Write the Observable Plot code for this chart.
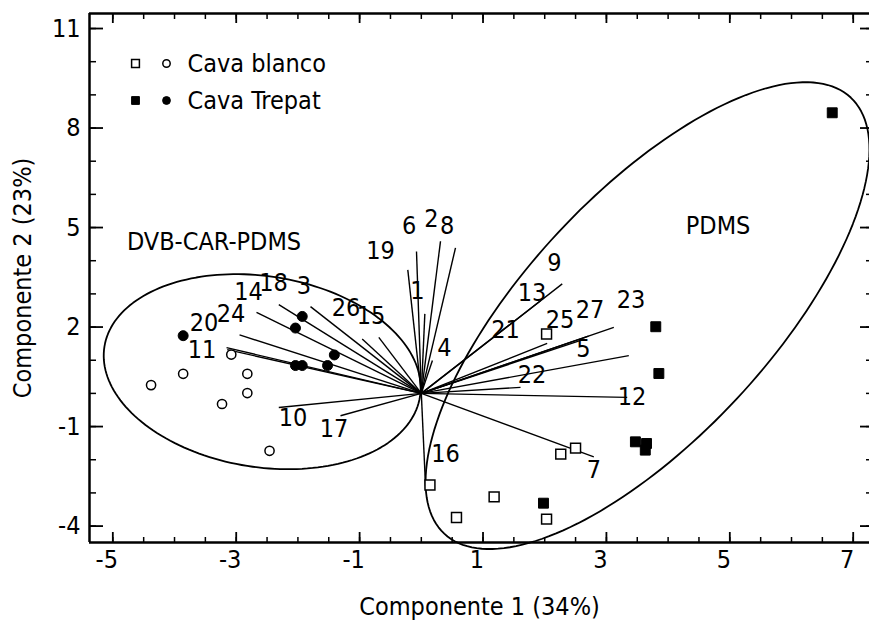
<!DOCTYPE html>
<html>
<head>
<meta charset="utf-8">
<script src="https://cdn.jsdelivr.net/npm/d3@7"></script>
<script src="https://cdn.jsdelivr.net/npm/@observablehq/plot@0.6"></script>
<style>
  html, body { margin: 0; padding: 0; background: #fff; }
</style>
</head>
<body>
<div id="chart"></div>
<script>
// Sample scores on the first two principal components
const blancoSquareX = [2.03, 2.50, 2.26, 0.14, 1.18, 0.57, 2.03];
const blancoSquareY = [1.79, -1.65, -1.83, -2.76, -3.12, -3.74, -3.79];
const trepatSquareX = [1.98, 3.47, 3.65, 3.63, 3.80, 3.85, 6.66];
const trepatSquareY = [-3.31, -1.46, -1.51, -1.71, 2.01, 0.60, 8.46];
const blancoCircleX = [-4.38, -3.86, -3.08, -2.82, -2.82, -3.23, -2.46];
const blancoCircleY = [0.25, 0.59, 1.17, 0.59, 0.01, -0.32, -1.73];
const trepatCircleX = [-3.86, -2.04, -1.93, -1.41, -1.52, -2.04, -1.93];
const trepatCircleY = [1.74, 1.97, 2.32, 1.16, 0.84, 0.84, 0.84];

// Variable loadings (vector tips) and where each number is written
const varLabels = ["1","2","3","4","5","6","7","8","9","10","11","12","13","14",
                   "15","16","17","18","19","20","21","22","23","24","25","26","27"];
const loadX  = [0.057, 0.311, -1.796, 0.18, 2.645, -0.078, 2.796, 0.554, 2.284, -2.310,
                -3.146, 3.337, 1.932, -2.671, -0.689, 0.068, -1.310, -2.310, -0.219, -3.157,
                2.040, 1.608, 3.363, -2.946, 2.710, -0.958, 3.120];
const loadY  = [2.397, 4.588, 2.617, 0.99, 1.636, 4.277, -1.911, 4.389, 3.302, -0.423,
                1.319, -0.121, 2.792, 2.445, 1.690, -2.786, -0.673, 2.677, 3.725, 1.379,
                1.509, 0.181, 1.138, 1.763, 1.727, 1.642, 1.992];
const labelX = [-0.062, 0.165, -1.901, 0.376, 2.629, -0.199, 2.799, 0.417, 2.159, -2.079,
                -3.554, 3.415, 1.794, -2.801, -0.815, 0.392, -1.415, -2.396, -0.661, -3.522,
                1.365, 1.794, 3.399, -3.084, 2.248, -1.220, 2.734];
const labelY = [3.100, 5.243, 3.251, 1.379, 1.334, 5.032, -2.303, 5.032, 3.930, -0.749,
                1.319, -0.100, 3.024, 3.055, 2.345, -1.820, -1.066, 3.326, 4.307, 2.119,
                1.923, 0.564, 2.828, 2.391, 2.225, 2.587, 2.526];

// Group ellipses: centre and two conjugate semi-axes (PC units)
const groupNames   = ["DVB-CAR-PDMS", "PDMS"];
const groupCenterX = [-2.579, 3.666];
const groupCenterY = [0.655, 2.345];
const groupAxisUX  = [2.566, 3.294];
const groupAxisUY  = [-0.353, 6.574];
const groupAxisVX  = [-0.115, 1.445];
const groupAxisVY  = [2.919, -2.511];
const groupLabelX  = [-3.360, 4.809];
const groupLabelY  = [4.579, 5.032];

// Axis ticks
const xMajor = [-5, -3, -1, 1, 3, 5, 7];
const yMajor = [11, 8, 5, 2, -1, -4];
const xMinor = d3.range(-5, 7.01, 0.5);
const yMinor = d3.range(-4, 11.01, 1);

const xDomain = [-5.378, 7.264];
const yDomain = [-4.495, 11.453];

const font = "'DejaVu Sans Condensed', 'DejaVu Sans', sans-serif";
const fs = 25;

const pts = (xs, ys) => xs.map((x, i) => ({x, y: ys[i]}));
const loadings = varLabels.map((label, i) => ({
  label, x: loadX[i], y: loadY[i], lx: labelX[i], ly: labelY[i]
}));
const ellipses = groupNames.map((name, g) =>
  d3.range(0, 361, 2).map(a => {
    const t = a * Math.PI / 180;
    return {
      g: name,
      x: groupCenterX[g] + groupAxisUX[g] * Math.cos(t) + groupAxisVX[g] * Math.sin(t),
      y: groupCenterY[g] + groupAxisUY[g] * Math.cos(t) + groupAxisVY[g] * Math.sin(t)
    };
  })
).flat();
const groupText = groupNames.map((name, g) => ({name, x: groupLabelX[g], y: groupLabelY[g]}));

const fmt = d => String(d);

const chart = Plot.plot({
  width: 869,
  height: 630,
  marginLeft: 89,
  marginRight: 0,
  marginTop: 13,
  marginBottom: 88,
  x: {domain: xDomain},
  y: {domain: yDomain},
  style: {fontFamily: font, fontStretch: "condensed", fontSize: fs + "px", background: "white", color: "black", overflow: "visible"},
  marks: [
    // frame
    Plot.ruleX([xDomain[0]], {stroke: "black", strokeWidth: 2.5}),
    Plot.ruleY([yDomain[0], yDomain[1]], {stroke: "black", strokeWidth: 2.5}),
    // inward ticks on all four sides
    Plot.axisX(xMajor, {anchor: "bottom", tickSize: -10, text: null, strokeWidth: 1.8, label: null}),
    Plot.axisX(xMinor, {anchor: "bottom", tickSize: -5, text: null, strokeWidth: 1.5, label: null}),
    Plot.axisX(xMajor, {anchor: "top", tickSize: -9, text: null, strokeWidth: 1.8, label: null}),
    Plot.axisX(xMinor, {anchor: "top", tickSize: -5, text: null, strokeWidth: 1.5, label: null}),
    Plot.axisY(yMajor, {anchor: "left", tickSize: -14, text: null, strokeWidth: 1.8, label: null}),
    Plot.axisY(yMinor, {anchor: "left", tickSize: -7, text: null, strokeWidth: 1.5, label: null}),
    Plot.axisY(yMajor, {anchor: "right", tickSize: -10, text: null, strokeWidth: 1.8, label: null}),
    Plot.axisY(yMinor, {anchor: "right", tickSize: -4, text: null, strokeWidth: 1.5, label: null}),
    // tick labels
    Plot.axisX(xMajor, {anchor: "bottom", tickSize: 0, tickPadding: 8, dx: -6, tickFormat: fmt, fontSize: fs, label: null}),
    Plot.axisY(yMajor, {anchor: "left", tickSize: 0, tickPadding: 9, tickFormat: fmt, fontSize: fs, label: null}),
    // axis titles
    Plot.text(["Componente 1 (34%)"], {frameAnchor: "bottom", textAnchor: "middle", lineAnchor: "middle", dy: 64, text: d => d, fontSize: fs}),
    Plot.text(["Componente 2 (23%)"], {frameAnchor: "left", textAnchor: "middle", lineAnchor: "middle", dx: -67, rotate: -90, text: d => d, fontSize: fs}),
    // group ellipses
    Plot.line(ellipses, {x: "x", y: "y", z: "g", stroke: "black", strokeWidth: 1.8}),
    Plot.text(groupText, {x: "x", y: "y", text: "name", fontSize: fs}),
    // loading vectors
    Plot.link(loadings, {x1: () => 0, y1: () => 0, x2: "x", y2: "y", stroke: "black", strokeWidth: 1.4}),
    Plot.text(loadings, {x: "lx", y: "ly", text: "label", fontSize: fs}),
    // sample scores
    Plot.dot(pts(blancoSquareX, blancoSquareY), {x: "x", y: "y", symbol: "square", r: 5.6, fill: "white", stroke: "black", strokeWidth: 1.5}),
    Plot.dot(pts(trepatSquareX, trepatSquareY), {x: "x", y: "y", symbol: "square", r: 5.6, fill: "black", stroke: "black", strokeWidth: 1}),
    Plot.dot(pts(blancoCircleX, blancoCircleY), {x: "x", y: "y", symbol: "circle", r: 4.6, fill: "white", stroke: "black", strokeWidth: 1.5}),
    Plot.dot(pts(trepatCircleX, trepatCircleY), {x: "x", y: "y", symbol: "circle", r: 5, fill: "black", stroke: "black", strokeWidth: 1}),
    // legend
    Plot.dot([0], {frameAnchor: "top-left", dx: 46, dy: 50, symbol: "square", r: 4.4, fill: "white", stroke: "black", strokeWidth: 1.5}),
    Plot.dot([0], {frameAnchor: "top-left", dx: 77, dy: 50, symbol: "circle", r: 3.7, fill: "white", stroke: "black", strokeWidth: 1.5}),
    Plot.text(["Cava blanco"], {frameAnchor: "top-left", dx: 98, dy: 50, textAnchor: "start", lineAnchor: "middle", text: d => d, fontSize: fs}),
    Plot.dot([0], {frameAnchor: "top-left", dx: 46, dy: 87, symbol: "square", r: 4.4, fill: "black", stroke: "black", strokeWidth: 1}),
    Plot.dot([0], {frameAnchor: "top-left", dx: 77, dy: 87, symbol: "circle", r: 3.9, fill: "black", stroke: "black", strokeWidth: 1}),
    Plot.text(["Cava Trepat"], {frameAnchor: "top-left", dx: 98, dy: 87, textAnchor: "start", lineAnchor: "middle", text: d => d, fontSize: fs})
  ]
});
document.getElementById("chart").appendChild(chart);
</script>
</body>
</html>
